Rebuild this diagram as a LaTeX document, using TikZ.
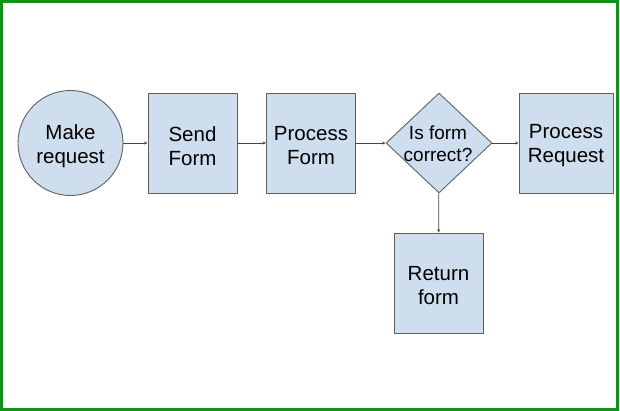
\documentclass[tikz,border=0pt]{standalone}
\usepackage{fontspec}
\setmainfont{Liberation Sans}
\usetikzlibrary{shapes.geometric,arrows.meta}
\definecolor{boxfill}{HTML}{CFDEEE}
\definecolor{boxline}{HTML}{606060}
\definecolor{frame}{HTML}{12921A}
\definecolor{arrowc}{HTML}{444444}
\begin{document}
\begin{tikzpicture}[x=1pt,y=-1pt,
  shapebox/.style={draw=boxline, fill=boxfill, line width=0.9pt, inner sep=0pt},
  rectbox/.style={shapebox, rectangle, minimum width=89pt, minimum height=100pt},
  txt/.style={align=center, inner sep=0pt, font=\fontsize{20.5}{24}\selectfont},
  conn/.style={draw=arrowc, line width=0.8pt, -{Stealth[length=3.5pt,width=3pt]}}]
\useasboundingbox (0,0) rectangle (620,411);
\draw[frame, line width=3pt] (1.5,1.5) rectangle (617.5,409.5);
\node[shapebox, circle, minimum size=105pt] (make) at (70.5,143) {};
\node[rectbox] (send) at (192.5,143) {};
\node[rectbox] (proc) at (311,143) {};
\node[shapebox, diamond, minimum width=106pt, minimum height=100pt] (dec) at (439,143) {};
\node[rectbox, minimum width=94pt] (preq) at (566,143) {};
\node[rectbox] (ret) at (438.5,283) {};
\node[txt] (maket) at ([yshift=-3pt]make.center) {Make\\request};
\node[txt] (sendt) at ([yshift=-3pt]send.center) {Send\\Form};
\node[txt] (proct) at ([yshift=-3pt]proc.center) {Process\\Form};
\node[txt, font=\fontsize{19}{22}\selectfont] (dect) at ([xshift=-1pt,yshift=-1pt]dec.center) {Is form\\correct?};
\node[txt] (preqt) at ([yshift=-3pt]preq.center) {Process\\Request};
\node[txt] (rett) at ([yshift=-3pt]ret.center) {Return\\form};
\draw[conn] (make) -- (send);
\draw[conn] (send) -- (proc);
\draw[conn] (proc) -- (dec);
\draw[conn] (dec) -- (preq);
\draw[conn] (dec) -- (ret);
\end{tikzpicture}
\end{document}
